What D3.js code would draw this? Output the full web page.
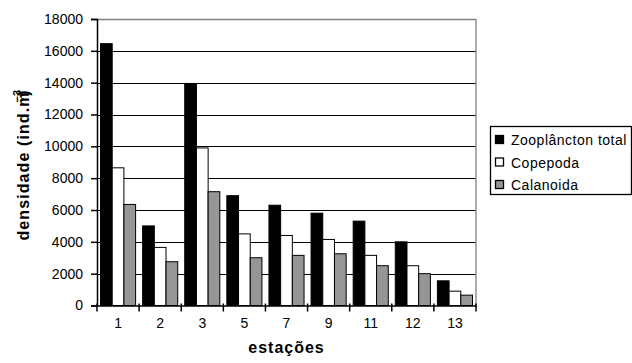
<!DOCTYPE html>
<html><head><meta charset="utf-8">
<script src="https://cdn.jsdelivr.net/npm/d3@7"></script>
<style>body{margin:0;background:#fff;} svg{display:block;font-family:"Liberation Sans",Arial,sans-serif;}</style>
</head><body>
<svg id="c" width="632" height="363"></svg>
<script>
const stations = ["1","2","3","5","7","9","11","12","13"];
const seriesNames = ["Zooplâncton total","Copepoda","Calanoida"];
const zooTotal = [16450, 5000, 13950, 6900, 6300, 5800, 5300, 4000, 1550];
const copepoda = [8650, 3650, 9900, 4500, 4400, 4150, 3150, 2500, 900];
const calanoida = [6350, 2750, 7150, 3000, 3150, 3250, 2500, 2000, 650];
const yTicks = [0,2000,4000,6000,8000,10000,12000,14000,16000,18000];
const colors = ["#000000","#ffffff","#969696"];

const svg = d3.select("#c");
const L = 97, R = 476, T = 19, B = 305.5;
const x = d3.scaleBand().domain(stations).range([L, R]).paddingInner(0).paddingOuter(0);
const y = d3.scaleLinear().domain([0, 18000]).range([B, T]);
const inner = d3.scaleBand().domain(seriesNames).range([0, x.bandwidth()]).paddingOuter(0.3).paddingInner(0);

// gridlines
svg.append("g").selectAll("line").data(yTicks.filter(t => t > 0 && t < 18000)).join("line")
  .attr("x1", L).attr("x2", R).attr("y1", d => Math.round(y(d)) + 0.5).attr("y2", d => Math.round(y(d)) + 0.5)
  .attr("stroke", "#000").attr("stroke-width", 1);
// top & right border gray
svg.append("line").attr("x1", L).attr("x2", R).attr("y1", Math.round(y(18000)) + 0.5).attr("y2", Math.round(y(18000)) + 0.5).attr("stroke", "#808080").attr("stroke-width", 1.3);
svg.append("line").attr("x1", R).attr("x2", R).attr("y1", T).attr("y2", B).attr("stroke", "#808080").attr("stroke-width", 1.3);

const data = [zooTotal, copepoda, calanoida];
const g = svg.append("g");
data.forEach((vals, si) => {
  g.selectAll(null).data(vals).join("rect")
    .attr("x", (d, i) => x(stations[i]) + inner(seriesNames[si]))
    .attr("y", d => y(d))
    .attr("width", inner.bandwidth())
    .attr("height", d => B - y(d))
    .attr("fill", colors[si]).attr("stroke", "#000").attr("stroke-width", 1);
});

// y axis
const yAxis = d3.axisLeft(y).tickValues(yTicks).tickSize(6).tickPadding(8).tickFormat(d3.format("d"));
const ya = svg.append("g").attr("transform", `translate(${L},0)`).call(yAxis);
ya.select(".domain").attr("stroke", "#000").attr("stroke-width", 1.5);
ya.selectAll(".tick line").attr("stroke", "#000").attr("stroke-width", 1.5);
ya.selectAll("text").attr("font-size", 14).attr("fill", "#000").attr("font-family", "Liberation Sans, Arial, sans-serif");

// x axis
const xa = svg.append("g").attr("transform", `translate(0,${B})`).call(d3.axisBottom(x).tickSize(0).tickPadding(13));
xa.select(".domain").attr("stroke", "#000").attr("stroke-width", 1.5);
xa.selectAll("text").attr("font-size", 14).attr("fill", "#000").attr("font-family", "Liberation Sans, Arial, sans-serif");
const bounds = stations.map(s => x(s)).concat([R]);
xa.selectAll(".bt").data(bounds).join("line").attr("class", "bt")
  .attr("x1", d => d).attr("x2", d => d).attr("y1", -2).attr("y2", 6).attr("stroke", "#000").attr("stroke-width", 1.5);

// axis titles
svg.append("text").attr("x", (L + R) / 2).attr("y", 353).attr("text-anchor", "middle")
  .attr("font-weight", "bold").attr("font-size", 16).attr("letter-spacing", 1).text("estações");
const yt = svg.append("text").attr("transform", "translate(29,165) rotate(-90)").attr("text-anchor", "middle")
  .attr("font-weight", "bold").attr("font-size", 16).attr("letter-spacing", 1.1);
yt.append("tspan").text("densidade (ind.m");
yt.append("tspan").attr("dx", -11).attr("dy", -8).attr("font-size", 11).attr("letter-spacing", 0).text("−3");
yt.append("tspan").attr("dx", -6).attr("dy", 8).text(")");

// legend
const lg = svg.append("g");
lg.append("rect").attr("x", 490.5).attr("y", 126.5).attr("width", 141).attr("height", 68).attr("fill", "#fff").attr("stroke", "#000").attr("stroke-width", 1.3);
seriesNames.forEach((n, i) => {
  const cy = 140 + i * 22.5;
  lg.append("rect").attr("x", 495.5).attr("y", cy - 4.5).attr("width", 8).attr("height", 8)
    .attr("fill", colors[i]).attr("stroke", "#000").attr("stroke-width", 1.3);
  lg.append("text").attr("x", 511).attr("y", cy + 5).attr("font-size", 14).attr("letter-spacing", 0.5).text(n);
});
</script>
</body></html>
